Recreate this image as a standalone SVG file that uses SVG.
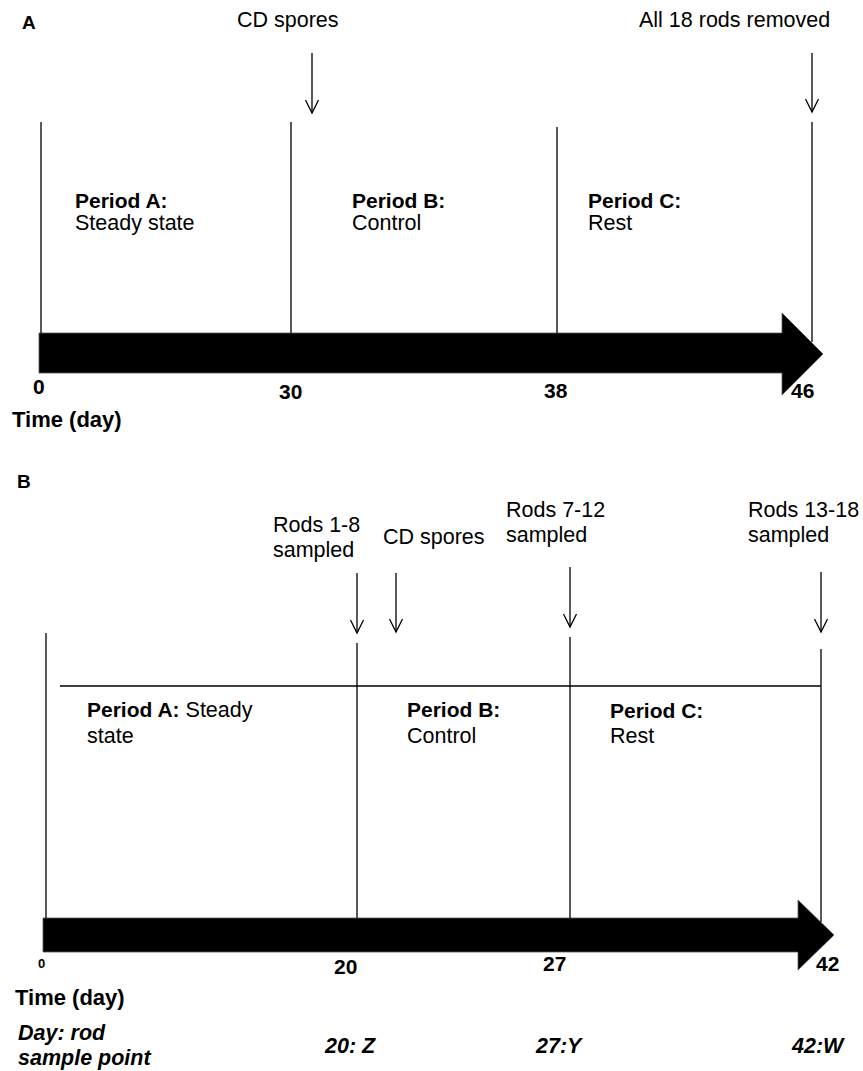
<svg xmlns="http://www.w3.org/2000/svg" width="863" height="1071" viewBox="0 0 863 1071">
<style>
text{font-family:"Liberation Sans",Arial,sans-serif;fill:#000}
.r{font-size:21.5px}
.b{font-size:21px;font-weight:bold}
.bi{font-size:21.5px;font-weight:bold;font-style:italic}
.lbl{font-size:19px;font-weight:bold}
.ln{stroke:#000;stroke-width:1.3;fill:none}
.ar{stroke:#000;stroke-width:1.3;fill:none;marker-end:url(#v)}
.bar{fill:#000;stroke:#555;stroke-width:0.8}
</style>
<defs>
<marker id="v" viewBox="-1 -8 16 16" refX="13" refY="0" markerWidth="16" markerHeight="16" markerUnits="userSpaceOnUse" orient="auto">
<path d="M0,-6.5 L13,0 L0,6.5" fill="none" stroke="#000" stroke-width="1.3"/>
</marker>
</defs>
<rect width="863" height="1071" fill="#fff"/>

<g id="panelA">
<text class="lbl" x="22" y="29">A</text>
<g id="A-timeline">
<polygon class="bar" points="39,333 782,333 782,313 823,354 782,395 782,373 39,373"/>
<text class="b" x="33" y="394">0</text>
<text class="b" x="279" y="399">30</text>
<text class="b" x="544" y="398">38</text>
<text class="b" x="791" y="398">46</text>
<text class="b" x="12" y="427" style="font-size:22px">Time (day)</text>
</g>
<g id="A-connectors">
<line class="ln" x1="41" y1="122" x2="41" y2="333"/>
<line class="ln" x1="291" y1="122" x2="291" y2="333"/>
<line class="ln" x1="557" y1="127" x2="557" y2="333"/>
<line class="ln" x1="812" y1="122" x2="812" y2="342"/>
<line class="ar" x1="312" y1="53" x2="312" y2="113"/>
<line class="ar" x1="812" y1="53" x2="812" y2="112"/>
</g>
<g id="A-cd-spores"><text class="r" x="237" y="27">CD spores</text></g>
<g id="A-removed"><text class="r" x="639" y="27">All 18 rods removed</text></g>
<g id="A-periodA"><text class="b" x="75" y="208">Period A:</text><text class="r" x="75" y="230">Steady state</text></g>
<g id="A-periodB"><text class="b" x="352" y="208">Period B:</text><text class="r" x="352" y="230">Control</text></g>
<g id="A-periodC"><text class="b" x="588" y="208">Period C:</text><text class="r" x="588" y="230">Rest</text></g>
</g>

<g id="panelB">
<text class="lbl" x="17" y="488">B</text>
<g id="B-timeline">
<polygon class="bar" points="43,918 798,918 798,900 834,935 798,970 798,952 43,952"/>
<text x="38" y="968" style="font-size:13px;font-weight:bold">0</text>
<text class="b" x="334" y="974">20</text>
<text class="b" x="543" y="971">27</text>
<text class="b" x="816" y="971">42</text>
<text class="b" x="15" y="1005" style="font-size:22px">Time (day)</text>
<text class="bi" x="18" y="1040">Day: rod</text>
<text class="bi" x="18" y="1065">sample point</text>
<text class="bi" x="325" y="1053">20: Z</text>
<text class="bi" x="536" y="1053">27:Y</text>
<text class="bi" x="792" y="1053">42:W</text>
</g>
<g id="B-connectors">
<line class="ln" x1="46" y1="633" x2="46" y2="918"/>
<line class="ln" x1="357" y1="643" x2="357" y2="918"/>
<line class="ln" x1="570" y1="637" x2="570" y2="918"/>
<line class="ln" x1="821" y1="649" x2="821" y2="922"/>
<line class="ln" x1="60" y1="686" x2="821" y2="686"/>
<line class="ar" x1="357" y1="573" x2="357" y2="633"/>
<line class="ar" x1="396" y1="573" x2="396" y2="632"/>
<line class="ar" x1="570" y1="567" x2="570" y2="627"/>
<line class="ar" x1="821" y1="572" x2="821" y2="632"/>
</g>
<g id="B-rods1-8"><text class="r" x="273" y="532">Rods 1-8</text><text class="r" x="273" y="557">sampled</text></g>
<g id="B-cd-spores"><text class="r" x="383" y="544">CD spores</text></g>
<g id="B-rods7-12"><text class="r" x="506" y="517">Rods 7-12</text><text class="r" x="506" y="542">sampled</text></g>
<g id="B-rods13-18"><text class="r" x="748" y="517">Rods 13-18</text><text class="r" x="748" y="542">sampled</text></g>
<g id="B-periodA"><text x="87" y="717" class="r"><tspan style="font-weight:bold;font-size:21px">Period A:</tspan> Steady</text><text class="r" x="87" y="743">state</text></g>
<g id="B-periodB"><text class="b" x="407" y="717">Period B:</text><text class="r" x="407" y="743">Control</text></g>
<g id="B-periodC"><text class="b" x="610" y="718">Period C:</text><text class="r" x="610" y="743">Rest</text></g>
</g>
</svg>
